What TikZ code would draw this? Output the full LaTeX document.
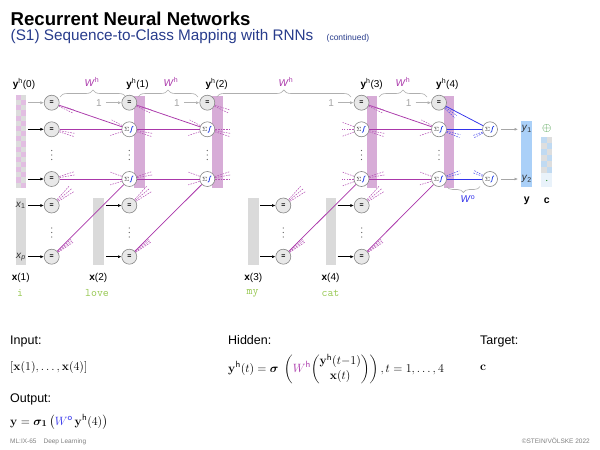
\documentclass[tikz,border=0pt]{standalone}
\usepackage{amsmath,bm}
\usepackage[no-math]{fontspec}
\setmainfont{Liberation Sans}
\usetikzlibrary{decorations.pathreplacing,arrows.meta,calc}
\definecolor{hpurple}{RGB}{170,55,170}
\definecolor{hpink}{RGB}{215,172,215}
\definecolor{chkp}{RGB}{226,190,226}
\definecolor{chkg}{RGB}{220,220,220}
\definecolor{oblue}{RGB}{50,50,235}
\definecolor{ybarcol}{RGB}{170,208,248}
\definecolor{cbl}{RGB}{192,218,242}
\definecolor{cgr}{RGB}{222,222,222}
\definecolor{barg}{RGB}{218,218,218}
\definecolor{nodeg}{RGB}{232,232,232}
\definecolor{nodeb}{RGB}{135,135,135}
\definecolor{wordg}{RGB}{150,200,80}
\definecolor{subblue}{RGB}{40,60,140}
\definecolor{sigblue}{RGB}{40,70,230}
\definecolor{braceg}{RGB}{175,175,175}
\definecolor{dotc}{RGB}{90,90,90}
\definecolor{cgreen}{RGB}{40,140,40}
\definecolor{labc}{RGB}{50,50,50}
\newcommand\sumnd[2]{%
 \node[sumn] (#1) at (#2) {};
 \node[inner sep=0pt, font=\fontsize{6}{6}\selectfont, text=labc] at ([xshift=-2.6pt]#1.center) {$\Sigma$};
 \draw[sigblue, line width=0.8pt] ([xshift=0.6pt,yshift=-3.2pt]#1.center) .. controls ([xshift=2.8pt,yshift=-3.2pt]#1.center) and ([xshift=1.6pt,yshift=3.2pt]#1.center) .. ([xshift=3.9pt,yshift=3.2pt]#1.center);
}
\newcommand\stubs[4]{\foreach \a in {#3}{\draw[#2] ($(#1.center)+(\a:8)$) -- ($(#1.center)+(\a:#4)$);}}
\newcommand\vdts[2]{\foreach \d in {-4.5,0,4.5}{\fill[dotc] (#1,#2+\d) circle (0.6);}}
\tikzset{
 eqn/.style={circle, draw=nodeb, fill=nodeg, line width=0.6pt, minimum size=15pt, inner sep=0pt, font=\fontsize{7}{7}\selectfont\bfseries},
 sumn/.style={circle, draw=nodeb, fill=white, line width=0.6pt, minimum size=15pt, inner sep=0pt},
 hl/.style={hpurple, line width=0.75pt},
 hd/.style={hpurple!85, line width=0.55pt, dash pattern=on 1.6pt off 1.1pt},
 ol/.style={oblue, line width=0.75pt},
 od/.style={oblue!85, line width=0.55pt, dash pattern=on 1.6pt off 1.1pt},
 arr/.style={-{Latex[length=3.5pt,width=3pt]}, line width=0.6pt},
 brc/.style={braceg, line width=0.6pt, decorate, decoration={brace, amplitude=7pt}},
 lbl/.style={font=\fontsize{10}{12}\selectfont, inner sep=0pt},
 wrd/.style={font=\fontsize{11.5}{13}\ttfamily, text=wordg, inner sep=0pt},
 btx/.style={anchor=base west, inner sep=0pt, font=\fontsize{12.5}{15}\selectfont},
}
\begin{document}
\begin{tikzpicture}[x=1pt,y=1pt]
\useasboundingbox (0,0) rectangle (600,-450);
\fill[white] (0,0) rectangle (600,-450);
% title
\node[anchor=base west, inner sep=0pt, font=\fontsize{18.6}{20}\selectfont\bfseries] (ttl) at (10.5,-25) {Recurrent Neural Networks};
\node[anchor=base west, inner sep=0pt, font=\fontsize{15.3}{18}\selectfont, text=subblue] (sub) at (10.5,-40) {(S1) Sequence-to-Class Mapping with RNNs\hspace{9pt} {\fontsize{8.5}{10}\selectfont(continued)}};
% bars
\foreach \i in {0,...,17}{\foreach \j in {0,1}{\pgfmathtruncatemacro\p{mod(\i+\j,2)}\ifnum\p=0\relax\def\cc{chkp}\else\def\cc{chkg}\fi
 \fill[\cc] ({15.7+\j*5.15},{-95-\i*5.15}) rectangle ++(5.15,-5.15);}}
\foreach \xa in {134.3,212.3,366.7,444}{\fill[hpink] (\xa,-95.5) rectangle ++(10.2,-92.2);}
\fill[ybarcol] (521,-121) rectangle (531.7,-187.3);
\fill[white] (541,-121) rectangle (552.3,-137);
\foreach \i in {0,...,5}{\foreach \j in {0,1}{\pgfmathtruncatemacro\p{mod(\i+\j,2)}\ifnum\p=0\relax\def\cc{cbl}\else\def\cc{cgr}\fi
 \fill[\cc] ({541+\j*5.65},{-137-\i*6}) rectangle ++(5.65,-6);}}
\fill[cbl!35] (541,-173) rectangle (552.3,-187.3);
\foreach \xa in {15.7,93.3,248.3,325.7}{\fill[barg] (\xa,-198.3) rectangle ++(10.3,-66.7);}
% braces
\draw[brc] (60,-97) -- (126,-97);
\draw[brc] (138,-97) -- (198,-97);
\draw[brc] (216.7,-97) -- (351,-97);
\draw[brc] (379,-97) -- (427,-97);
\draw[brc, decoration={brace, amplitude=6pt}] (480,-186.5) -- (446.7,-186.5);
% hidden nodes
\node[eqn] (b0) at (51.7,-102.7) {=};
\node[eqn] (h01) at (51.7,-129.3) {=};
\node[eqn] (h0N) at (51.7,-179) {=};
\node[eqn] (b1) at (129.3,-102.7) {=};
\sumnd{h11}{129.3,-129.3}
\sumnd{h1N}{129.3,-179}
\node[eqn] (b2) at (207.3,-102.7) {=};
\sumnd{h21}{207.3,-129.3}
\sumnd{h2N}{207.3,-179}
\node[eqn] (b3) at (361.5,-102.7) {=};
\sumnd{h31}{361.5,-129.3}
\sumnd{h3N}{361.5,-179}
\node[eqn] (b4) at (439,-102.7) {=};
\sumnd{h41}{439,-129.3}
\sumnd{h4N}{439,-179}
\sumnd{o1}{490,-129.3}
\sumnd{oN}{490,-179}
% input nodes
\node[eqn] (x11) at (51.7,-205.5) {=};
\node[eqn] (x1p) at (51.7,-256.7) {=};
\node[eqn] (x21) at (129.3,-205.5) {=};
\node[eqn] (x2p) at (129.3,-256.7) {=};
\node[eqn] (x31) at (283.3,-205.5) {=};
\node[eqn] (x3p) at (283.3,-256.7) {=};
\node[eqn] (x41) at (361.7,-205.5) {=};
\node[eqn] (x4p) at (361.7,-256.7) {=};
% dots
\foreach \xa in {51.7,129.3,207.3,361.5,439}{\vdts{\xa}{-155}}
\foreach \xa in {51.7,129.3,283.3,361.7}{\vdts{\xa}{-232.5}}
% solid connections
\draw[hl] (b0) -- (h11); \draw[hl] (h01) -- (h11); \draw[hl] (h0N) -- (h1N); \draw[hl] (x1p) -- (h1N);
\draw[hl] (b1) -- (h21); \draw[hl] (h11) -- (h21); \draw[hl] (h1N) -- (h2N); \draw[hl] (x2p) -- (h2N);
\draw[hl] (x3p) -- (h3N);
\draw[hl] (b3) -- (h41); \draw[hl] (h31) -- (h41); \draw[hl] (h3N) -- (h4N); \draw[hl] (x4p) -- (h4N);
\draw[ol] (b4) -- (o1); \draw[ol] (h41) -- (o1); \draw[ol] (h4N) -- (oN);
% stubs
\stubs{b0}{hd}{-18,-26}{24} \stubs{h01}{hd}{-10,-18}{24} \stubs{h0N}{hd}{10,18}{24}
\stubs{b1}{hd}{-18,-26}{24} \stubs{h11}{hd}{-10,-18}{24} \stubs{h1N}{hd}{10,18}{24}
\stubs{b2}{hd}{-18,-26}{24} \stubs{h21}{hd}{0,-10,-18}{24} \stubs{h2N}{hd}{0,10,18}{24}
\stubs{b3}{hd}{-18,-26}{24} \stubs{h31}{hd}{-10,-18}{24} \stubs{h3N}{hd}{10,18}{24}
\stubs{h11}{hd}{152,198}{20} \stubs{h1N}{hd}{160,197}{20}
\stubs{h21}{hd}{152,198}{20} \stubs{h2N}{hd}{160,197}{20}
\stubs{h31}{hd}{160,180,200}{20} \stubs{h3N}{hd}{160,180,200}{20}
\stubs{h41}{hd}{152,198}{20} \stubs{h4N}{hd}{160,197}{20}
\stubs{x11}{hd}{32,40,48}{26} \stubs{x21}{hd}{32,40,48}{26} \stubs{x31}{hd}{32,40,48}{26} \stubs{x41}{hd}{32,40,48}{26}
\stubs{x1p}{hd}{34,38,42}{26} \stubs{x2p}{hd}{34,38,42}{26} \stubs{x3p}{hd}{34,38,42}{26} \stubs{x4p}{hd}{34,38,42}{26}
\stubs{b4}{od}{-36,-44}{22} \stubs{h41}{od}{-14,-22}{22} \stubs{h4N}{od}{14,22}{22}
\stubs{o1}{od}{200,208}{18} \stubs{oN}{od}{152,160}{18}
% arrows into col0 and inputs
\draw[arr, gray!60] ([xshift=-15.5pt]b0.west) -- (b0);
\draw[arr] ([xshift=-15.5pt]h01.west) -- (h01);
\draw[arr] ([xshift=-15.5pt]h0N.west) -- (h0N);
\foreach \n in {x11,x1p,x21,x2p,x31,x3p}{\draw[arr] ([xshift=-15.5pt]\n.west) -- (\n);}
\foreach \n in {x41,x4p}{\draw[arr] ([xshift=-16.3pt]\n.west) -- (\n);}
% bias "1" inputs
\foreach \n/\k in {b1/1,b2/2,b3/3,b4/4}{
 \draw[arr, gray!60] ([xshift=-15.5pt]\n.west) -- (\n);
 \node[lbl, text=gray!70] (one\k) at ([xshift=-22.5pt]\n.west) {1};}
% outputs
\coordinate (ya1) at (518,-129.3);
\coordinate (ya2) at (518,-179);
\draw[arr, gray!70] ([xshift=3pt]o1.east) -- (ya1);
\draw[arr, gray!70] ([xshift=3pt]oN.east) -- (ya2);
% labels
\node[lbl] (ly0) at (24,-84) {\textbf{y}\textsuperscript{h}(0)};
\node[lbl] (ly1) at (137.5,-84) {\textbf{y}\textsuperscript{h}(1)};
\node[lbl] (ly2) at (216.7,-84) {\textbf{y}\textsuperscript{h}(2)};
\node[lbl] (ly3) at (371.7,-84) {\textbf{y}\textsuperscript{h}(3)};
\node[lbl] (ly4) at (447.3,-84) {\textbf{y}\textsuperscript{h}(4)};
\foreach \xa/\k in {92/1,171/2,286/3,403/4}{\node[lbl, text=hpurple] (lw\k) at (\xa,-82) {\textit{W}\textsuperscript{h}};}
\node[lbl, text=labc] (lx1) at (20.7,-205.5) {\textit{x}\textsubscript{1}};
\node[lbl, text=labc] (lxp) at (20.9,-257) {\textit{x}\textsubscript{\textit{p}}};
\node[lbl] (lX1) at (20.7,-277.7) {\textbf{x}(1)};
\node[lbl] (lX2) at (98.3,-277.7) {\textbf{x}(2)};
\node[lbl] (lX3) at (253.3,-277.7) {\textbf{x}(3)};
\node[lbl] (lX4) at (330.5,-277.7) {\textbf{x}(4)};
\node[wrd] (w1) at (20,-293.3) {i};
\node[wrd] (w2) at (97,-293.3) {love};
\node[wrd] (w3) at (252.5,-293.3) {my};
\node[wrd] (w4) at (330.5,-293.3) {cat};
\node[lbl, text=labc] (lyo1) at (526.7,-129.3) {\textit{y}\textsubscript{1}};
\node[lbl, text=labc] (lyo2) at (526.7,-179) {\textit{y}\textsubscript{2}};
\node[lbl, font=\fontsize{10.5}{12}\selectfont\bfseries] (lyb) at (526.7,-200.7) {y};
\node[lbl, font=\fontsize{10.5}{12}\selectfont\bfseries] (lcb) at (546.7,-200.7) {c};
\node[lbl, text=cgreen, font=\fontsize{12}{12}\selectfont] (cplus) at (546.7,-128.3) {$\oplus$};
\fill[cgreen] (546.7,-180.5) circle (0.7);
\node[lbl, text=oblue] (lwo) at (468,-199) {\textit{W}\textsuperscript{o}};
% bottom text
\node[btx] (tin) at (10,-344.5) {Input:};
\node[btx] (fin) at (10,-370) {$[\mathbf{x}(1),\ldots,\mathbf{x}(4)]$};
\node[btx] (tout) at (10,-402.5) {Output:};
\node[btx] (fout) at (10,-425) {$\mathbf{y}=\boldsymbol{\sigma}_{\mathbf{1}}\,\bigl(\textcolor{oblue}{W^{\mathsf{o}}}\,\mathbf{y}^{\mathsf{h}}(4)\bigr)$};
\node[btx] (thid) at (228,-344.5) {Hidden:};
\node[btx] (fhid) at (228,-372) {$\mathbf{y}^{\mathsf{h}}(t)=\boldsymbol{\sigma}\;\left(\textcolor{hpurple}{W^{\mathsf{h}}}\!\begin{pmatrix}\mathbf{y}^{\mathsf{h}}(t{-}1)\\ \mathbf{x}(t)\end{pmatrix}\right), t=1,\ldots,4$};
\node[btx] (ttg) at (480,-344.5) {Target:};
\node[btx] (ftg) at (480,-370) {$\mathbf{c}$};
% footer
\node[anchor=base west, inner sep=0pt, font=\fontsize{6.5}{8}\selectfont, text=gray] (fl) at (10,-443.5) {ML:IX-65\hspace{7pt}Deep Learning};
\node[anchor=base east, inner sep=0pt, font=\fontsize{6.5}{8}\selectfont, text=gray] (fr) at (590,-443.5) {©STEIN/VÖLSKE 2022};
\end{tikzpicture}
\end{document}
